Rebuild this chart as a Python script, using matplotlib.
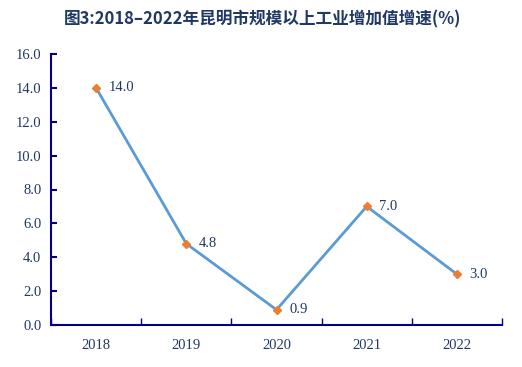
import matplotlib
matplotlib.use("Agg")
import matplotlib.pyplot as plt

years = ["2018", "2019", "2020", "2021", "2022"]
growth = [14.0, 4.8, 0.9, 7.0, 3.0]
yticks = [0, 2, 4, 6, 8, 10, 12, 14, 16]

TXT = "#1F3864"
AXC = "#000080"

fig = plt.figure(figsize=(5.22, 3.67), dpi=100)
ax = fig.add_axes([51 / 522, 1 - 325 / 367, (502 - 51) / 522, (325 - 54) / 367])

x = list(range(len(years)))
ax.plot(x, growth, color="#5B9BD5", lw=2, zorder=2)
ax.plot(x, growth, ls="none", marker="D", ms=4.5, color="#ED7D31", zorder=3)
for xi, v in zip(x, growth):
    ax.annotate(f"{v:.1f}", (xi, v), xytext=(9, 0), textcoords="offset points",
                va="center", ha="left", fontsize=10.5, color=TXT,
                family="Liberation Serif")

ax.set_xlim(-0.5, len(years) - 0.5)
ax.set_ylim(0, 16)
ax.set_yticks(yticks)
ax.set_yticklabels([f"{t:.1f}" for t in yticks], family="Liberation Serif",
                   fontsize=10.5, color=TXT)
# category boundaries carry the tick marks, labels sit between them
ax.set_xticks([i + 0.5 for i in range(-1, len(years))])
ax.set_xticklabels([])
ax.set_xticks(x, minor=True)
ax.set_xticklabels(years, minor=True, family="Liberation Serif",
                   fontsize=10.5, color=TXT)
ax.tick_params(axis="x", which="major", direction="in", length=5, color=AXC, width=1)
ax.tick_params(axis="x", which="minor", length=0, pad=10)
ax.tick_params(axis="y", direction="in", length=4, color=AXC, width=1.5, pad=7)

for s in ["top", "right"]:
    ax.spines[s].set_visible(False)
for s in ["left", "bottom"]:
    ax.spines[s].set_color(AXC)
    ax.spines[s].set_linewidth(1.5)

fig.text(262 / 522, 1 - 19 / 367, "图3:2018–2022年昆明市规模以上工业增加值增速(%)",
         ha="center", va="center", fontsize=12, fontweight="bold", color=TXT,
         family=["Noto Sans CJK SC", "DejaVu Sans"])

fig.savefig("out.png", dpi=100)
